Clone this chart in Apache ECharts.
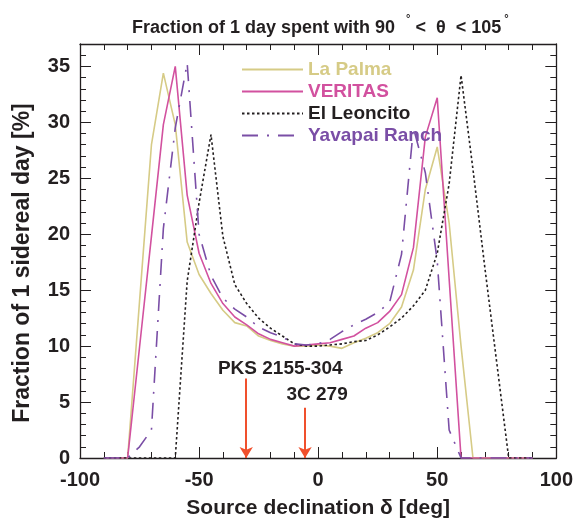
<!DOCTYPE html>
<html>
<head>
<meta charset="utf-8">
<script src="https://cdn.jsdelivr.net/npm/echarts@6/dist/echarts.min.js"></script>
<style>html,body{margin:0;padding:0;background:#fff}#chart{width:576px;height:524px}</style>
</head>
<body>
<div id="chart"></div>
<script>
// source declination grid [deg]
var decl = [-90,-85,-80,-75,-70,-65,-60,-55,-50,-45,-40,-35,-30,-25,-20,-15,-10,-5,0,5,10,15,20,25,30,35,40,45,50,55,60,65,70,75,80,85,90];

// fraction of 1 sidereal day [%] per site
var laPalma    = [0,0,0,14,28,34.4,29.8,19.3,16.4,14.7,13.2,12.1,11.8,10.9,10.5,10.2,10.0,10.0,10.1,10.0,9.8,10.3,10.7,11.2,12.0,13.5,16.8,24.0,27.8,21.0,10.0,0,0,0,0,0,0];
var veritas    = [0,0,0,9.9,19.8,29.8,35.0,23.5,18.3,15.6,13.8,12.6,11.9,11.1,10.6,10.3,10.0,10.1,10.2,10.3,10.6,10.9,11.6,12.1,13.1,14.6,18.8,28.7,32.2,16.0,0,0,0,0,0,0,0];
var elLeoncito = [0,0,0,0,0,0,0,15.8,22.8,28.9,19.8,15.5,13.8,12.5,11.6,10.9,10.2,10.0,10.0,10.1,10.2,10.4,10.5,11.0,11.7,12.5,13.6,15.0,18.3,24.5,34.2,25.8,17.0,8.5,0,0,0];
var yavapai    = [0,0,0,1.0,2.5,20.5,29.5,35.3,20.0,16.3,14.3,13.3,12.6,11.7,11.2,10.8,10.2,10.1,10.2,10.6,11.3,11.9,12.4,13.0,13.9,18.2,29.5,25.5,17.6,2.5,0,0,0,0,0,0,0];

// marked sources
var sourceNames = ['PKS 2155-304', '3C 279'];
var sourceDecl  = [-30.2, -5.5];
var arrowTop    = [7.1, 4.5];

var FONT = "'Liberation Sans', Arial, sans-serif";
var INK = '#231f20';

function pairs(ys) {
    return decl.map(function (d, i) { return [d, ys[i]]; });
}

var dom = document.getElementById('chart');
var myChart = echarts.init(dom, null, {renderer: 'canvas'});

var siteNames  = ['La Palma', 'VERITAS', 'El Leoncito', 'Yavapai Ranch'];
var siteColors = ['#d6cb86', '#d2519f', INK, '#7a4ea6'];
var siteDash   = ['solid', 'solid', [2.5, 2.5], [16, 9, 2, 9]];
var siteData   = [laPalma, veritas, elLeoncito, yavapai];

var series = siteNames.map(function (n, i) {
    return {
        name: n,
        type: 'line',
        data: pairs(siteData[i]),
        symbol: 'none',
        lineStyle: {color: siteColors[i], width: 1.6, type: siteDash[i]},
        itemStyle: {color: siteColors[i]},
        z: 3
    };
});

series.push({
    name: 'sources',
    type: 'line',
    data: [],
    markLine: {
        silent: true,
        symbol: ['none', 'arrow'],
        symbolSize: [10, 11],
        lineStyle: {color: '#f0502d', width: 2, type: 'solid'},
        label: {
            show: true,
            position: 'start',
            formatter: '{b}',
            color: INK,
            fontFamily: FONT,
            fontWeight: 'bold',
            fontSize: 19
        },
        data: sourceNames.map(function (n, i) {
            return [
                {name: n, coord: [sourceDecl[i], arrowTop[i]], label: {offset: i === 0 ? [34, 5] : [12, 2]}},
                {coord: [sourceDecl[i], 0]}
            ];
        })
    }
});

function axisCommon(extra) {
    var a = {
        axisLine: {show: true, onZero: false, lineStyle: {color: INK, width: 1.3}},
        axisTick: {show: true, inside: true, length: 11, lineStyle: {color: INK, width: 1}},
        minorTick: {show: true, splitNumber: 5, length: 6, lineStyle: {color: INK, width: 1}},
        splitLine: {show: false},
        minorSplitLine: {show: false}
    };
    for (var k in extra) a[k] = extra[k];
    return a;
}

var option = {
    backgroundColor: '#ffffff',
    animation: false,
    title: {
        left: 127,
        top: 8,
        text: '{t|Fraction of 1 day spent with 90}{s1|°}{t| <  θ  < 105}{s2|°}',
        textStyle: {
            rich: {
                t: {fontFamily: FONT, fontWeight: 'bold', fontSize: 18, color: INK},
                s1: {fontFamily: FONT, fontSize: 11, color: INK, padding: [0, 0, 20, 11]},
                s2: {fontFamily: FONT, fontSize: 11, color: INK, padding: [0, 0, 20, 3]}
            }
        }
    },
    legend: {
        orient: 'vertical',
        left: 236,
        top: 55,
        itemWidth: 61,
        itemHeight: 14,
        itemGap: 3,
        selectedMode: false,
        itemStyle: {opacity: 0},
        data: siteNames.map(function (n, i) {
            return {name: n, textStyle: {color: i === 2 ? INK : siteColors[i]}};
        }),
        textStyle: {fontFamily: FONT, fontWeight: 'bold', fontSize: 19}
    },
    grid: {left: 80, right: 13, top: 44, bottom: 66, containLabel: false},
    xAxis: [
        axisCommon({
            type: 'value', position: 'bottom', min: -100, max: 100, interval: 50,
            name: 'Source declination δ [deg]', nameLocation: 'middle', nameGap: 40,
            nameTextStyle: {fontFamily: FONT, fontWeight: 'bold', fontSize: 21, color: INK},
            axisLabel: {fontFamily: FONT, fontWeight: 'bold', fontSize: 20, color: INK, margin: 12}
        }),
        axisCommon({
            type: 'value', position: 'top', min: -100, max: 100, interval: 50,
            axisLabel: {show: false}
        })
    ],
    yAxis: [
        axisCommon({
            type: 'value', position: 'left', min: 0, max: 37, interval: 5,
            name: 'Fraction of 1 sidereal day [%]', nameLocation: 'middle', nameGap: 46,
            nameTextStyle: {fontFamily: FONT, fontWeight: 'bold', fontSize: 23, color: INK, padding: [0, 24, 0, 0]},
            axisLabel: {fontFamily: FONT, fontWeight: 'bold', fontSize: 20, color: INK, margin: 10, showMaxLabel: false}
        }),
        axisCommon({
            type: 'value', position: 'right', min: 0, max: 37, interval: 5,
            axisLabel: {show: false}
        })
    ],
    series: series
};

myChart.setOption(option, true);
</script>
</body>
</html>
